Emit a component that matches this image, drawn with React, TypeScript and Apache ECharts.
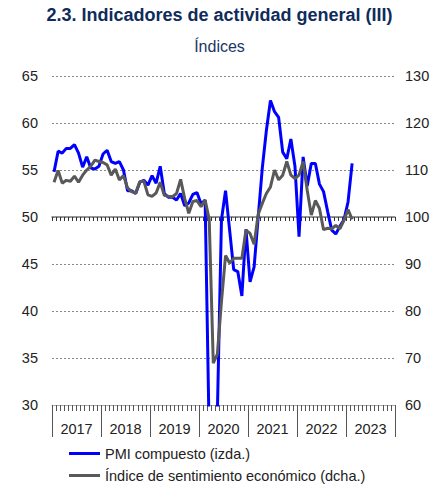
import React, { useEffect, useRef } from "react";
import * as echarts from "echarts";

const years = ["2017", "2018", "2019", "2020", "2021", "2022", "2023"];
const months: string[] = [];
years.forEach((y) => {
  for (let m = 1; m <= 12; m++) months.push(`${y}-${m < 10 ? "0" + m : m}`);
});

// PMI compuesto (izda.), Jan 2017 – Feb 2023
const pmi = [
  54.8, 57.0, 56.8, 57.3, 57.3, 57.7, 56.8, 55.3, 56.4, 55.2, 55.1, 55.4,
  56.7, 57.1, 55.9, 55.7, 55.9, 55.0, 52.8, 52.8, 52.5, 53.7, 53.9, 53.4,
  54.4, 53.6, 55.4, 52.5, 52.1, 52.1, 51.8, 52.5, 51.2, 51.5, 52.4, 52.6,
  51.4, 51.8, 26.7, 9.2, 29.2, 49.7, 52.8, 48.6, 44.4, 44.2, 41.6, 48.7,
  43.1, 44.7, 50.0, 55.2, 59.2, 62.4, 61.2, 60.6, 56.9, 56.2, 58.3, 55.4,
  47.9, 56.4, 53.3, 55.7, 55.7, 53.5, 52.7, 50.6, 48.6, 48.2, 49.0, 49.7,
  51.6, 55.7,
];

// Índice de sentimiento económico (dcha.), Jan 2017 – Feb 2023
const esi = [
  107.4, 109.9, 107.2, 107.8, 107.6, 108.7, 107.4, 108.9, 110.0, 110.8, 112.1, 111.8,
  111.6, 111.1, 108.9, 110.2, 107.9, 108.8, 106.2, 105.4, 105.1, 107.5, 107.6, 104.7,
  104.4, 105.1, 107.4, 104.6, 104.4, 104.3, 105.0, 108.0, 103.9, 100.8, 103.3, 103.5,
  102.2, 103.6, 99.5, 68.9, 70.8, 82.0, 91.8, 90.2, 91.2, 91.2, 91.2, 97.2,
  96.5, 94.2, 100.6, 102.9, 105.0, 106.4, 110.0, 107.9, 108.9, 111.8, 108.9, 108.2,
  108.9, 111.8, 105.7, 100.4, 103.5, 101.8, 97.3, 97.6, 97.5, 98.2, 97.5, 99.3,
  101.6, 99.5,
];

const leftTicks = { min: 30, max: 65, interval: 5 };
const rightTicks = { min: 60, max: 130, interval: 10 };
const seriesNames = ["PMI compuesto (izda.)", "Índice de sentimiento económico (dcha.)"];

const FONT = "'Liberation Sans', Arial, sans-serif";

export default function App() {
  const ref = useRef<HTMLDivElement>(null);
  useEffect(() => {
    if (!ref.current) return;
    const chart = echarts.init(ref.current, undefined, { renderer: "svg" });
    const gridTop = 76;
    const gridHeight = 329;
    const midOffset = -(gridHeight * (50 - leftTicks.min)) / (leftTicks.max - leftTicks.min);
    const legendBase = {
      left: 64,
      itemWidth: 31,
      itemHeight: 3,
      icon: "rect",
      textStyle: { fontSize: 14.5, color: "#222", fontFamily: FONT },
    };
    chart.setOption({
      animation: false,
      textStyle: { fontFamily: FONT },
      title: [
        {
          text: "2.3. Indicadores de actividad general (III)",
          left: "center",
          top: 1,
          textStyle: { fontSize: 18, fontWeight: "bold", color: "#0f2b5c", fontFamily: FONT },
        },
        {
          text: "Índices",
          left: "center",
          top: 33,
          textStyle: { fontSize: 16, fontWeight: "normal", color: "#1c3566", fontFamily: FONT },
        },
      ],
      legend: [
        { ...legendBase, top: 441, data: [seriesNames[0]] },
        { ...legendBase, top: 463, data: [seriesNames[1]] },
      ],
      grid: { left: 52, right: 44, top: gridTop, height: gridHeight, containLabel: false },
      xAxis: [
        {
          type: "category",
          data: months,
          position: "bottom",
          boundaryGap: true,
          axisLine: { show: true, lineStyle: { color: "#aaa", width: 1 } },
          axisTick: { show: true, interval: 0, length: 6, lineStyle: { color: "#555", width: 1 } },
          axisLabel: { show: false },
          splitLine: { show: false },
        },
        {
          type: "category",
          data: years,
          position: "bottom",
          boundaryGap: true,
          axisLine: { show: false },
          axisTick: { show: true, interval: 0, length: 32, lineStyle: { color: "#555", width: 1 } },
          axisLabel: { show: true, interval: 0, margin: 16, fontSize: 14.5, color: "#222", fontFamily: FONT },
          splitLine: { show: false },
        },
        {
          type: "category",
          data: months,
          position: "bottom",
          offset: midOffset,
          boundaryGap: true,
          axisLine: { show: true, lineStyle: { color: "#777", width: 1.5 } },
          axisTick: { show: true, interval: 0, length: 4, lineStyle: { color: "#333", width: 1 } },
          axisLabel: { show: false },
          splitLine: { show: false },
        },
      ],
      yAxis: [
        {
          type: "value",
          position: "left",
          min: leftTicks.min,
          max: leftTicks.max,
          interval: leftTicks.interval,
          axisLine: { show: false },
          axisTick: { show: false },
          axisLabel: { fontSize: 14.5, color: "#222", margin: 14, fontFamily: FONT },
          splitLine: { show: true, lineStyle: { color: "#888", type: [2, 2], width: 1 } },
        },
        {
          type: "value",
          position: "right",
          min: rightTicks.min,
          max: rightTicks.max,
          interval: rightTicks.interval,
          axisLine: { show: false },
          axisTick: { show: false },
          axisLabel: { fontSize: 14.5, color: "#222", margin: 10, fontFamily: FONT },
          splitLine: { show: false },
        },
      ],
      series: [
        {
          name: seriesNames[0],
          type: "line",
          xAxisIndex: 0,
          yAxisIndex: 0,
          data: pmi,
          symbol: "none",
          clip: true,
          color: "#0000ff",
          lineStyle: { color: "#0000ff", width: 3 },
          z: 3,
        },
        {
          name: seriesNames[1],
          type: "line",
          xAxisIndex: 0,
          yAxisIndex: 1,
          data: esi,
          symbol: "none",
          clip: true,
          color: "#595959",
          lineStyle: { color: "#595959", width: 3 },
          z: 4,
        },
      ],
    });
    return () => chart.dispose();
  }, []);
  return (
    <div
      ref={ref}
      style={{ position: "absolute", left: 0, top: 0, width: 439, height: 485 }}
    />
  );
}
